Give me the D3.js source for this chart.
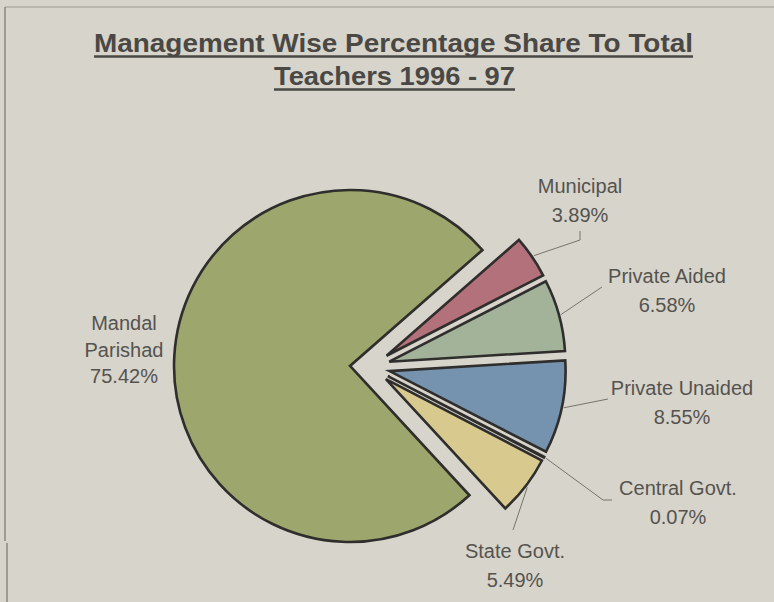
<!DOCTYPE html>
<html>
<head>
<meta charset="utf-8">
<script src="https://cdn.jsdelivr.net/npm/d3@7"></script>
<style>
  html, body { margin: 0; padding: 0; background: #d7d4cb; }
  svg { display: block; }
</style>
</head>
<body>
<svg id="chart" width="774" height="602"></svg>
<script>
// Management-wise share of teachers, 1996-97 (percent)
const categories = ["Municipal", "Private Aided", "Private Unaided", "Central Govt.", "State Govt.", "Mandal Parishad"];
const shares = [3.89, 6.58, 8.55, 0.07, 5.49, 75.42];
const labelLines = [
  ["Municipal"],
  ["Private Aided"],
  ["Private Unaided"],
  ["Central Govt."],
  ["State Govt."],
  ["Mandal", "Parishad"]
];
const titleLines = ["Management Wise Percentage Share To Total", "Teachers 1996 - 97"];

const colors = ["#b3717b", "#a2b39a", "#7592af", "#3a3a3a", "#d8ca8f", "#9da66c"];

// layout
const W = 774, H = 602;
const cx = 370, cy = 367, radius = 176, explode = 20;
const startDeg = 48.8;

// label anchor (centre x, first baseline y) and leader elbows for each slice
const labelPos = [
  { x: 580, y: 193, leader: [[580, 240], [580, 231]] },
  { x: 667, y: 283, leader: [[602, 287]] },
  { x: 682, y: 395, leader: [[608, 399]] },
  { x: 678, y: 495, leader: [[603, 500], [612, 500]] },
  { x: 515, y: 558, leader: [[513, 530]] },
  { x: 124, y: 330, leader: null }
];

const svg = d3.select("#chart");

svg.append("rect").attr("width", W).attr("height", H).attr("fill", "#d7d4cb");

// frame
svg.append("line").attr("x1", 5).attr("y1", 7).attr("x2", W).attr("y2", 7)
  .attr("stroke", "#9c998f").attr("stroke-width", 1.2);
svg.append("line").attr("x1", 5).attr("y1", 7).attr("x2", 5).attr("y2", 541)
  .attr("stroke", "#8c897f").attr("stroke-width", 1.5);
svg.append("line").attr("x1", 7).attr("y1", 543).attr("x2", 7).attr("y2", H)
  .attr("stroke", "#8c897f").attr("stroke-width", 1.5);

// title with underlines
const titleY = [52, 85];
const titleW = [599, 241];
const titleCx = [393.5, 394.5];
titleLines.forEach((t, i) => {
  svg.append("text")
    .attr("x", titleCx[i]).attr("y", titleY[i])
    .attr("text-anchor", "middle")
    .attr("font-family", "Liberation Sans, Arial, sans-serif")
    .attr("font-weight", "bold")
    .attr("font-size", 25)
    .attr("fill", "#4a4845")
    .attr("textLength", titleW[i])
    .attr("lengthAdjust", "spacingAndGlyphs")
    .text(t);
  svg.append("line")
    .attr("x1", titleCx[i] - titleW[i] / 2).attr("x2", titleCx[i] + titleW[i] / 2)
    .attr("y1", titleY[i] + 4.5).attr("y2", titleY[i] + 4.5)
    .attr("stroke", "#4a4845").attr("stroke-width", 2.5);
});

// pie
const a0 = startDeg * Math.PI / 180;
const pie = d3.pie().sort(null).value(d => d).startAngle(a0).endAngle(a0 + 2 * Math.PI);
const arcs = pie(shares);
const arc = d3.arc().innerRadius(0).outerRadius(radius);

const offset = d => {
  const m = (d.startAngle + d.endAngle) / 2;
  return [explode * Math.sin(m), -explode * Math.cos(m)];
};

const g = svg.append("g").attr("transform", `translate(${cx},${cy})`);

g.selectAll("path.slice")
  .data(arcs)
  .join("path")
  .attr("class", "slice")
  .attr("transform", d => { const o = offset(d); return `translate(${o[0]},${o[1]})`; })
  .attr("d", arc)
  .attr("fill", (d, i) => colors[i])
  .attr("stroke", "#2f2e2c")
  .attr("stroke-width", 2.6)
  .attr("stroke-linejoin", "miter");

// leader lines from each slice's outer edge to its label
arcs.forEach((d, i) => {
  const lp = labelPos[i];
  if (!lp.leader) return;
  const m = (d.startAngle + d.endAngle) / 2;
  const o = offset(d);
  const sx = cx + o[0] + (radius + 2) * Math.sin(m);
  const sy = cy + o[1] - (radius + 2) * Math.cos(m);
  const pts = [[sx, sy]].concat(lp.leader);
  svg.append("path")
    .attr("d", d3.line()(pts))
    .attr("fill", "none")
    .attr("stroke", "#77746e")
    .attr("stroke-width", 1);
});

// labels: category name(s) and percentage
arcs.forEach((d, i) => {
  const lp = labelPos[i];
  const lines = labelLines[i].concat([d3.format(".2f")(shares[i]) + "%"]);
  const t = svg.append("text")
    .attr("text-anchor", "middle")
    .attr("font-family", "Liberation Sans, Arial, sans-serif")
    .attr("font-size", 20)
    .attr("fill", "#55534f");
  lines.forEach((s, k) => {
    t.append("tspan").attr("x", lp.x).attr("y", lp.y + k * (i === 5 ? 26.5 : 28.5)).text(s);
  });
});
</script>
</body>
</html>
